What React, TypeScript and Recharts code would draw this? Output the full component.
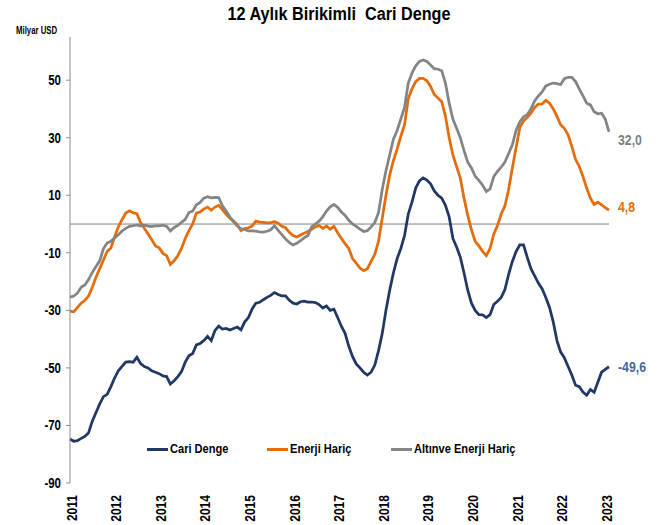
import React from 'react';
import { LineChart, Line, XAxis, YAxis, ReferenceLine, Legend, LabelList } from 'recharts';

const years = ['2011', '2012', '2013', '2014', '2015', '2016', '2017', '2018', '2019', '2020', '2021', '2022', '2023'];

const cariDenge = [
  -74.7, -75.5, -75.3, -74.5, -73.8, -72.5, -68.5, -65.5, -62.5, -60, -59.2, -56.5,
  -53.5, -51, -49.5, -48, -47.8, -48, -46.3, -48.5, -49.5, -50, -51, -51.5,
  -52, -52.8, -53, -55.6, -54.5, -53, -51.3, -48, -45.8, -45, -42, -41.5,
  -40.5, -39, -40.5, -37, -35.5, -36.5, -36.3, -36.8, -36.3, -35.8, -36.8, -34,
  -32.5, -29.5, -27.5, -27.2, -26.3, -25.5, -24.8, -23.8, -24.5, -25, -25, -26.5,
  -27.5, -27.8, -27, -26.8, -27.1, -27.1, -27.3, -28, -29.2, -28.5, -30, -29.6,
  -32.5, -35.5, -38, -42.5, -46, -48.6, -50, -51.5, -52.5, -51.5, -49, -44,
  -38, -30, -23, -17, -12, -8.5, -4, 3.5, 7.6, 12.5, 15, 16,
  15.3, 14, 11.5, 10, 9, 6.5, 2.5, -5, -8, -11.5, -17, -23,
  -27.5, -30, -31.5, -31.6, -32.5, -31.5, -28, -26.8, -25.5, -22.8, -17.5, -13,
  -9.6, -7.2, -7.2, -11.5, -15.5, -18, -20.5, -22.5, -25.5, -29, -34, -40.5,
  -44.5, -46.5, -49.5, -52.5, -56, -56.5, -58.4, -59.5, -57.5, -58.5, -55, -51.5,
  -50.5, -49.6,
];

const enerjiHaric = [
  -30.3, -30.5, -29, -27.5, -26.5, -25, -22, -18.5, -15.5, -12.5, -9.5, -8.3,
  -4.5, -1, 1.5, 3.8, 4.6, 3.9, 3.6, 0.5, -1.5, -3.5, -5.5, -7.6,
  -8.3, -10.2, -11, -14, -12.8, -11, -8.5, -5, -2.3, 0, 3.8, 4.2,
  5.2, 5.9, 4.8, 5.9, 6.5, 5, 3.4, 2, 1, -0.2, -2.3, -1.6,
  -1.3, -0.7, 1, 0.7, 0.6, 0.4, 0.5, 0.8, 0.3, -0.8, -1.3, -2.9,
  -4, -4.5, -3.8, -3.2, -2.6, -1.8, -1, -0.5, -1.5, -0.7, -1.8, -0.8,
  -3, -5, -6.8, -8.5, -12, -13.6, -15.3, -16.2, -15.5, -13, -10.5, -6,
  2, 10, 17, 22, 26, 30.5, 34.5, 43.5, 47, 49.5, 50.6, 50.6,
  49.8, 47.8, 45, 43.8, 42.5, 37.5, 30, 24, 20, 16, 9, 3,
  -2, -6, -7.6, -9.5, -11, -8.5, -3.5, -0.5, 3.5, 6.3, 12, 19.5,
  26.5, 33.5, 35.8, 37, 38.5, 40.5, 41.7, 41.7, 43, 42, 40, 37.4,
  34.5, 33.2, 31, 27, 22.5, 20, 16.5, 12.5, 9, 6.8, 7.6, 6.7,
  5.7, 4.8,
];

const altinEnerjiHaric = [
  -25.4, -25, -24, -22, -21.2, -19.3, -16.8, -14.8, -12.8, -8.5, -6.6, -6,
  -4.8, -3.7, -2.4, -1.5, -0.8, -0.6, -0.3, -0.7, -0.4, -0.7, -0.9, -0.6,
  -0.6, -0.4, -0.8, -2.4, -1.2, -0.5, 0.6, 1.6, 4, 4.5, 6.7, 7.5,
  9, 9.5, 9.1, 9.3, 9.2, 6.3, 4.5, 2.5, 0.8, -0.7, -1.7, -1.9,
  -2.4, -2.4, -2.5, -2.7, -2.8, -2.5, -2, -0.6, -2.2, -3.7, -5.2, -6.4,
  -7.3, -6.7, -5.8, -4.8, -4, -1, 0, 1, 2.5, 4.5, 6, 6.8,
  5.8, 4.2, 3, 1.3, 0, -0.8, -1.8, -2.6, -2.3, -1, 0.5, 4,
  12, 18.5, 24, 29.5, 32.5, 36.5, 40.5, 49, 52.5, 55, 56.5, 57,
  56.5, 55.3, 54, 53.8, 53.3, 49, 42, 36.5, 33.3, 30, 25.5, 21.5,
  19.5, 16.6, 15.2, 13.5, 11.3, 12.2, 16.5, 18.3, 19.8, 21.5, 24.5, 27.5,
  32.5, 35.5, 37.3, 38, 40, 42.8, 44.5, 45.9, 48, 48.6, 49, 48.8,
  48.5, 50.5, 51, 51, 49.5, 47, 44.5, 42, 41.4, 39, 38.3, 38.5,
  36.5, 32,
];

const yTicks = [-90, -70, -50, -30, -10, 10, 30, 50];
const seriesNames = ['Cari Denge', 'Enerji Hariç', 'Altınve Enerji Hariç'];
const lastLabels = ['-49,6', '4,8', '32,0'];
const titleText = '12 Aylık Birikimli  Cari Denge';
const unitText = 'Milyar USD';

const data = cariDenge.map((v, i) => ({
  i,
  cari: v,
  enerji: enerjiHaric[i],
  altin: altinEnerjiHaric[i],
}));
const xTicks = years.map((_, k) => k * 12);

const FONT = "'Liberation Sans', Arial, sans-serif";
const NARROW = 0.82;
const NAVY = '#1F3864';
const ORANGE = '#E46C0A';
const GRAY = '#848484';
const colors = [NAVY, ORANGE, GRAY];
const labelColors = ['#44679C', ORANGE, '#808080'];
const labelDy = [0, -3, 8];
const legendOffsets = [0, 120, 244];

const XTick = (props: any) => {
  const { x, y, payload } = props;
  const label = years[Math.round(payload.value / 12)];
  return (
    <text
      transform={`translate(${x + 6.5},${y + 12}) rotate(-90) scale(0.86,1)`}
      textAnchor="end"
      fontSize={14}
      fontWeight="bold"
      fontFamily={FONT}
      fill="#000"
    >
      {label}
    </text>
  );
};

const YTick = (props: any) => {
  const { x, y, payload } = props;
  return (
    <text
      transform={`translate(${x},${y}) scale(${NARROW},1)`}
      textAnchor="end"
      dy="0.355em"
      fontSize={14}
      fontWeight="bold"
      fontFamily={FONT}
      fill="#000"
    >
      {payload.value}
    </text>
  );
};

const makeEndLabel = (k: number) => (p: any) => {
  const { x, y, index } = p;
  if (index !== data.length - 1) return null;
  return (
    <text
      transform={`translate(${x + 9},${y + labelDy[k]}) scale(${NARROW},1)`}
      dy="0.35em"
      fontSize={15}
      fontWeight="bold"
      fontFamily={FONT}
      fill={labelColors[k]}
    >
      {lastLabels[k]}
    </text>
  );
};

const LegendContent = () => (
  <div style={{ position: 'relative', width: 380, height: 16, fontFamily: FONT, fontWeight: 'bold', fontSize: 13.5, color: '#000', whiteSpace: 'nowrap' }}>
    {seriesNames.map((n, k) => (
      <div key={n} style={{ position: 'absolute', left: legendOffsets[k], top: 0, height: 16, display: 'flex', alignItems: 'center' }}>
        <div style={{ width: 21, height: 3, background: colors[k], marginRight: 2 }} />
        <span style={{ display: 'inline-block', transform: `scaleX(${NARROW})`, transformOrigin: 'left center', lineHeight: '16px' }}>{n}</span>
      </div>
    ))}
  </div>
);

export default function App() {
  return (
    <div style={{ position: 'absolute', left: 0, top: 0, width: 665, height: 525, background: '#fff' }}>
      <div
        style={{
          position: 'absolute', left: 339, top: 5, transform: 'translateX(-50%) scaleX(0.9)',
          fontFamily: FONT, fontWeight: 'bold', fontSize: 18, lineHeight: '18px', color: '#000', whiteSpace: 'pre',
        }}
      >
        {titleText}
      </div>
      <div
        style={{
          position: 'absolute', left: 16, top: 25.5, fontFamily: FONT, fontWeight: 'bold',
          fontSize: 10, lineHeight: '10px', color: '#000', whiteSpace: 'nowrap',
          transform: 'scaleX(0.78)', transformOrigin: 'left center',
        }}
      >
        {unitText}
      </div>
      <LineChart width={665} height={525} data={data} margin={{ top: 37, right: 56, bottom: 0, left: 0 }}>
        <XAxis
          dataKey="i"
          type="number"
          domain={[0, 145]}
          ticks={xTicks}
          interval={0}
          height={42}
          axisLine={false}
          tickLine={false}
          tickSize={0}
          tickMargin={0}
          tick={<XTick />}
        />
        <YAxis
          type="number"
          domain={[-90, 65]}
          ticks={yTicks}
          interval={0}
          width={70}
          allowDataOverflow
          axisLine={{ stroke: '#8C8C8C', strokeWidth: 1 }}
          tickLine={{ stroke: '#8C8C8C', strokeWidth: 1 }}
          tickSize={4}
          tickMargin={5}
          tick={<YTick />}
        />
        <ReferenceLine y={0} stroke="#7F7F7F" strokeWidth={1} ifOverflow="extendDomain" />
        <Line type="linear" dataKey="cari" stroke={NAVY} strokeWidth={2.75} dot={false} isAnimationActive={false} name={seriesNames[0]}>
          <LabelList dataKey="cari" content={makeEndLabel(0)} />
        </Line>
        <Line type="linear" dataKey="enerji" stroke={ORANGE} strokeWidth={2.75} dot={false} isAnimationActive={false} name={seriesNames[1]}>
          <LabelList dataKey="enerji" content={makeEndLabel(1)} />
        </Line>
        <Line type="linear" dataKey="altin" stroke={GRAY} strokeWidth={2.75} dot={false} isAnimationActive={false} name={seriesNames[2]}>
          <LabelList dataKey="altin" content={makeEndLabel(2)} />
        </Line>
        <Legend
          layout="horizontal"
          verticalAlign="middle"
          align="center"
          wrapperStyle={{ position: 'absolute', top: 441, left: 147, width: 'auto', height: 'auto' }}
          content={<LegendContent />}
        />
      </LineChart>
    </div>
  );
}
